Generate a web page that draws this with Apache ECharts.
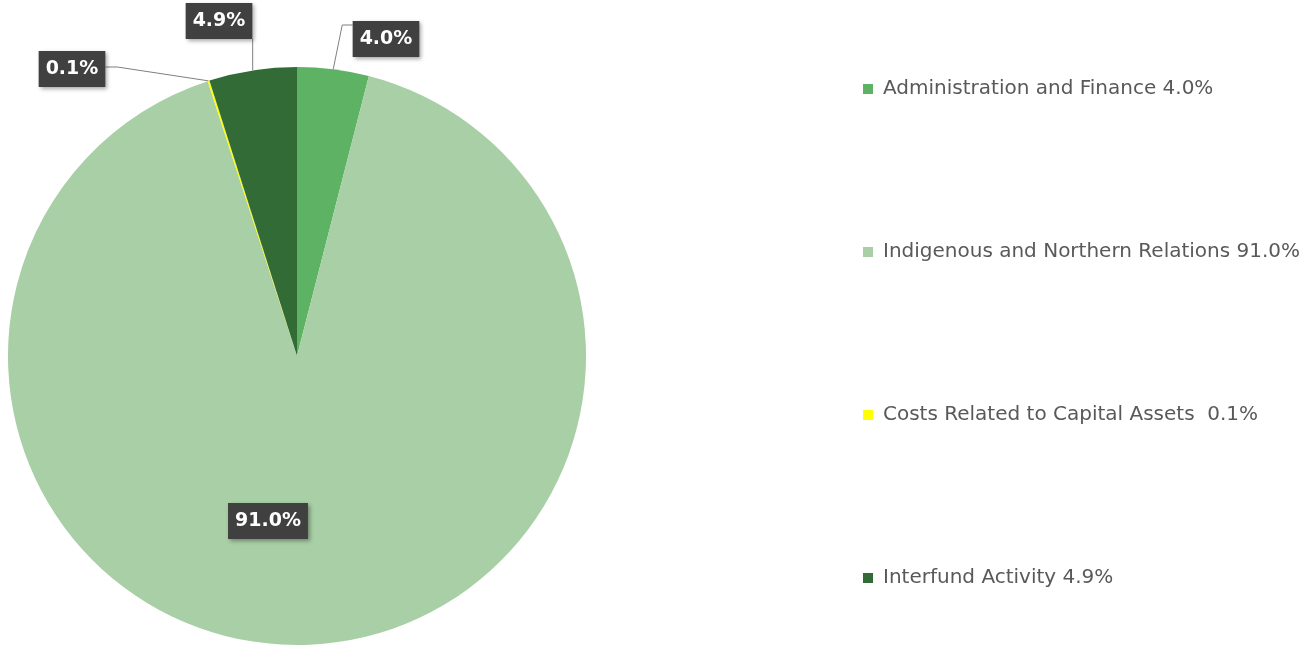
<!DOCTYPE html>
<html>
<head>
<meta charset="utf-8">
<script src="https://cdn.jsdelivr.net/npm/echarts@6/dist/echarts.min.js"></script>
<style>
  html, body { margin: 0; padding: 0; background: #fff; }
  #chart { width: 1303px; height: 649px; }
</style>
</head>
<body>
<div id="chart"></div>
<script>
// categories and values (percent of total)
const categories = [
  'Administration and Finance',
  'Indigenous and Northern Relations',
  'Costs Related to Capital Assets ',
  'Interfund Activity'
]
const shares = [4.0, 91.0, 0.1, 4.9]
const colors = ['#5db263', '#a9cfa6', '#ffff00', '#336b37']
// where each percent box sits (centre)
const labelSpots = [[386, 39], [268, 521], [72, 69], [219, 21]]

const chart = echarts.init(document.getElementById('chart'))

const data = categories.map((name, i) => {
  const item = { name: name, value: shares[i], itemStyle: { color: colors[i] } }
  if (i === 1) {
    item.label = { position: 'inside' }
    item.labelLine = { show: false }
  }
  return item
})

// label line routes, built from the slice edge point and the box
const lineRoute = (i, start, box) => {
  const [sx, sy] = start
  if (i === 0) {
    const y = box.y + 4
    return [[sx, sy], [sx + 9, y], [box.x, y]]
  }
  if (i === 3) {
    const bottom = box.y + box.height
    return [[sx, sy], [sx, bottom], [sx, bottom]]
  }
  if (i === 2) {
    const y = box.y + box.height / 2 - 2
    return [[sx, sy], [box.x + box.width + 12, y], [box.x + box.width, y]]
  }
  return null
}

chart.setOption({
  animation: false,
  legend: {
    orient: 'vertical',
    left: 863,
    top: 77,
    padding: 0,
    itemWidth: 10,
    itemHeight: 10,
    itemGap: 139,
    icon: 'rect',
    data: categories,
    formatter: name => name + ' ' + shares[categories.indexOf(name)].toFixed(1) + '%',
    textStyle: {
      fontFamily: 'DejaVu Sans',
      fontSize: 20,
      lineHeight: 24,
      color: '#595959',
      padding: [0, 0, 0, 5]
    }
  },
  series: [{
    type: 'pie',
    center: [297, 356],
    radius: 289,
    startAngle: 90,
    clockwise: true,
    data: data,
    label: {
      show: true,
      formatter: p => p.value.toFixed(1) + '%',
      fontFamily: 'DejaVu Sans',
      fontWeight: 'bold',
      fontSize: 19,
      color: '#fff',
      backgroundColor: '#404040',
      padding: [9, 7, 8, 7],
      shadowBlur: 4,
      shadowOffsetX: 2,
      shadowOffsetY: 2,
      shadowColor: 'rgba(0,0,0,0.35)'
    },
    labelLine: {
      show: true,
      length: 10,
      length2: 10,
      lineStyle: { color: '#7f7f7f', width: 1 }
    },
    labelLayout: params => {
      const i = params.dataIndex
      const spot = labelSpots[i]
      const w = params.labelRect.width
      const h = params.labelRect.height
      const box = { x: spot[0] - w / 2, y: spot[1] - h / 2, width: w, height: h }
      const out = { x: spot[0], y: spot[1], align: 'center', verticalAlign: 'middle' }
      if (params.labelLinePoints) {
        const route = lineRoute(i, params.labelLinePoints[0], box)
        if (route) out.labelLinePoints = route
      }
      return out
    }
  }]
})
</script>
</body>
</html>
